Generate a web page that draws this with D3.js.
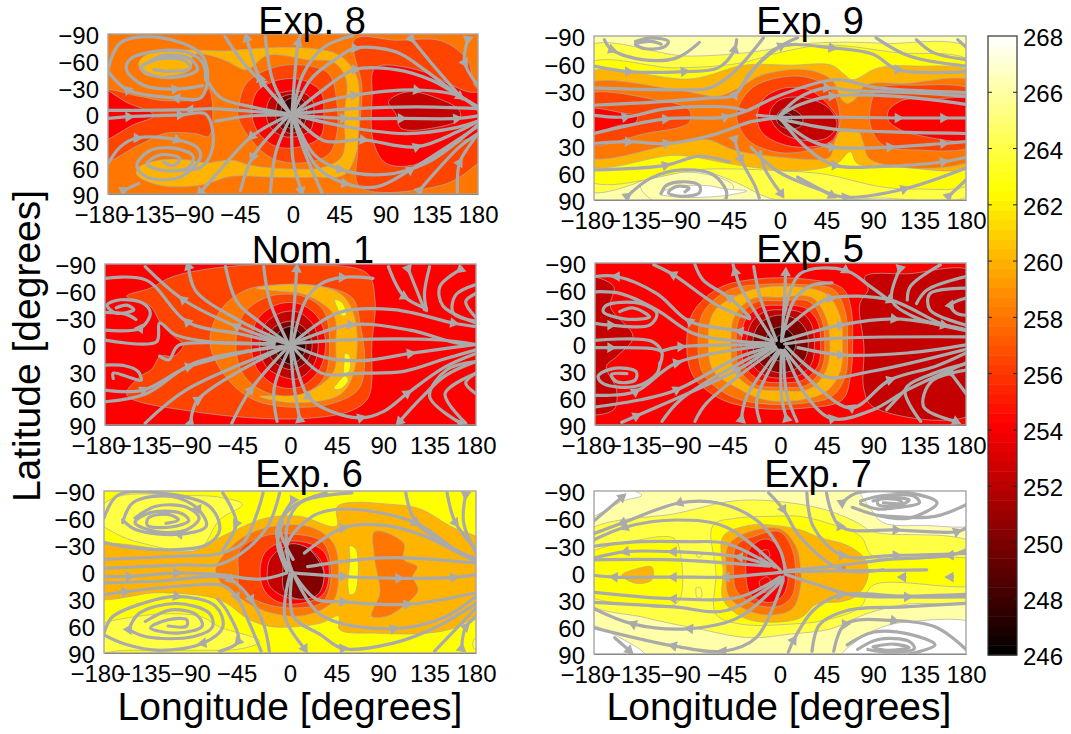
<!DOCTYPE html>
<html><head><meta charset="utf-8">
<script src="https://cdn.jsdelivr.net/npm/d3@7"></script>
<style>html,body{margin:0;padding:0;background:#fff}svg{display:block}text{font-family:"Liberation Sans",Arial,sans-serif;fill:#000}</style>
</head><body><svg id="c" width="1071" height="734"></svg>
<script>
const lonTicks=[-180,-135,-90,-45,0,45,90,135,180];
const latTicks=[-90,-60,-30,0,30,60,90];
const barTicks=[246,248,250,252,254,256,258,260,262,264,266,268];
const bandLevels=[246,248,250,252,254,256,258,260,262,264,266,268];
const bandColors=["#1c0000","#3c0000","#840000","#c40000","#ff0000","#ff4400","#ff7700","#ffb400","#ffff00","#ffff44","#ffffaa","#ffffff"];

// Exp. 8 : [temperature level, outline in lon/lat]
const exp8Base=258;
const exp8Bands=[
[260,[[-150,-58],[-135,-71],[-100,-72],[-65,-71],[-30,-74],[15,-74],[45,-66],[62,-42],[64,0],[63,37],[50,68],[20,71],[-20,71],[-60,70],[-90,80],[-130,80],[-152,68],[-150,60],[-130,52],[-100,52],[-85,55],[-60,52],[-40,58],[0,62],[30,60],[48,47],[50,0],[52,-38],[40,-58],[15,-61],[-25,-66],[-45,-50],[-65,-60],[-85,-67],[-97,-66],[-100,-50],[-120,-43],[-145,-45]]],
[256,[[-190,-25],[-150,-20],[-125,-15],[-90,-18],[-82,-28],[-78,0],[-82,25],[-95,22],[-125,22],[-150,35],[-190,55]]],
[254,[[-190,-29],[-160,-12],[-140,-3],[-135,2],[-155,12],[-190,30]]],
[256,[[60,-84],[100,-83],[145,-82],[170,-60],[178,-30],[190,-25],[190,40],[175,60],[145,80],[65,82],[63,40],[67,-30]]],
[254,[[80,-52],[120,-50],[150,-35],[170,-25],[190,-22],[190,20],[165,30],[140,45],[115,58],[90,55],[78,30],[77,-20]]],
[252,[[93,-14],[112,-25],[140,-18],[162,-4],[162,6],[135,16],[105,16],[100,0]]],
[256,[[-53,-8],[-45,-35],[-20,-52],[10,-55],[35,-45],[43,-10],[43,20],[35,45],[10,55],[-20,50],[-40,30],[-53,5]]],
[254,[[-40,0],[-35,-25],[-15,-38],[10,-38],[27,-25],[30,0],[27,25],[10,36],[-15,37],[-33,22]]],
[252,[[-26,0],[-22,-18],[-8,-25],[8,-25],[19,-15],[20,3],[17,18],[5,25],[-10,25],[-22,15]]],
[250,[[-17,0],[-13,-17],[0,-22],[11,-14],[13,2],[9,15],[-2,22],[-13,14]]],
[248,[[-12,0],[-8,-14],[1,-18],[7,-9],[8,2],[5,12],[-3,16],[-9,10]]]
];
// Exp. 8 : streamlines in lon/lat, a third element 1 marks an arrowhead
const exp8Streams=[
[[0,1],[49,5,1],[105,5,1],[159,5,1],[180,2]],
[[0,0],[30,-14],[59,-21,1],[120,-27,1],[162,-20,1],[180,-5]],
[[0,0],[30,-28],[60,-50,1],[100,-50],[135,-38],[162,-20],[180,-8]],
[[0,-1],[18,-40],[42,-62],[60,-74,1],[100,-70],[130,-48],[160,-22],[180,-8]],
[[0,-1],[10,-45],[30,-75],[58,-88]],
[[0,0],[59,-6],[120,-8],[180,-6]],
[[115,-85,1],[140,-50],[165,-17]],
[[170,-84,1],[167,-58,1],[180,-32]],
[[0,1],[30,30],[68,29,1],[120,37,1],[160,20],[180,8]],
[[0,1],[55,15],[110,22],[160,15],[180,8]],
[[-1,1],[23,59],[50,78,1],[81,82],[114,63,1],[180,14]],
[[0,1],[20,45],[45,62,1],[90,68],[130,55],[170,22],[180,12]],
[[123,86,1],[162,37],[180,22]],
[[160,88],[162,55,1],[175,30],[180,22]],
[[-3,-1],[-30,-35,1],[-50,-60],[-66,-87]],
[[-3,-1],[-32,-40,1],[-40,-65],[-45,-85,1]],
[[-3,-1],[-19,-35],[-27,-87]],
[[-1,-1],[5,-80,1],[7,-88]],
[[-3,0],[-40,-8],[-70,-18],[-82,-35]],
[[-3,0],[-40,-3],[-80,-6],[-100,-5,1],[-180,-4]],
[[-3,1],[-40,2],[-75,8]],
[[-180,5],[-160,3,1],[-110,1,1],[-85,0],[-78,20],[-80,45],[-90,60],[-110,63]],
[[-180,-50],[-168,-80],[-129,-86],[-90,-68],[-83,-42],[-90,-18],[-113,-18,1],[-161,-27,1],[-180,-48]],
[[-85,-38],[-88,-58],[-105,-70],[-130,-71],[-158,-62],[-162,-50],[-145,-32],[-115,-28,1],[-88,-32]],
[[-145,-55],[-125,-66],[-100,-62],[-93,-50],[-110,-42],[-135,-43],[-148,-52],[-130,-62],[-105,-60],[-100,-52],[-120,-48],[-135,-50]],
[[-180,56],[-168,37],[-152,27,1],[-113,29,1],[-94,37],[-90,48],[-110,71],[-142,71],[-152,58],[-139,41],[-113,39],[-97,48],[-103,61],[-129,63],[-142,56],[-129,46],[-110,50],[-116,58],[-126,54]],
[[-3,1],[-39,48,1],[-51,86]],
[[-3,1],[-40,25,1],[-74,67],[-90,88,1]],
[[-1,1],[-16,40],[-22,88]],
[[-1,1],[0,52],[8,86,1]],
[[-1,1],[13,48],[28,88]],
[[-165,86,1],[-150,78]]
];

// Exp. 9
const exp9Base=266;
const exp9Bands=[
[264,[[-190,-76],[-90,-68],[-30,-72],[30,-82],[100,-82],[190,-72],[190,80],[90,88],[30,92],[-10,88],[-40,72],[-70,60],[-120,60],[-140,72],[-190,78]]],
[266,[[-120,62],[-70,62],[-45,75],[-60,92],[-120,92],[-135,75]]],
[268,[[-117,83],[-101,76],[-72,74],[-52,78],[-32,80],[-52,85],[-95,87]]],
[262,[[-190,-57],[-100,-55],[-40,-60],[0,-72],[45,-80],[110,-72],[190,-58],[190,68],[130,78],[95,75],[45,62],[0,58],[-70,56],[-190,66]]],
[260,[[-190,-47],[-85,-43],[-35,-58],[10,-58],[50,-58],[62,-48],[70,-42],[95,-55],[130,-57],[190,-47],[190,50],[115,54],[75,50],[68,37],[55,50],[20,58],[-20,55],[-50,50],[-100,41],[-190,50]]],
[258,[[-190,-35],[-100,-31],[-60,-24],[-40,-33],[-18,-47],[25,-53],[50,-42],[60,-20],[65,-16],[72,-20],[83,-36],[120,-38],[190,-38],[190,43],[88,46],[80,25],[76,15],[58,15],[52,30],[48,43],[0,43],[-45,35],[-70,24],[-100,28],[-190,41]]],
[256,[[-190,-24],[-120,-20],[-88,-9],[-88,5],[-130,17],[-190,28]]],
[256,[[-42,-3],[-30,-30],[-10,-42],[25,-45],[50,-30],[58,0],[52,25],[30,35],[0,38],[-30,25]]],
[256,[[88,-15],[95,-32],[130,-36],[190,-28],[190,28],[130,35],[100,30],[88,10]]],
[254,[[-190,-9],[-150,-5],[-138,-2],[-140,5],[-155,8],[-190,17]]],
[254,[[-22,-3],[-15,-22],[5,-33],[30,-30],[50,-10],[57,5],[50,25],[25,32],[0,28],[-18,15]]],
[254,[[105,-8],[120,-20],[140,-20],[190,-18],[190,22],[130,18],[115,12],[105,3]]],
[252,[[-10,-5],[0,-20],[25,-22],[48,-10],[55,8],[45,22],[20,24],[0,15]]],
[250,[[-3,-3],[4,-10],[15,-8],[22,0],[20,9],[8,12],[-2,6]]],
[248,[[2,-2],[7,-5],[12,-2],[10,3],[4,4]]]
];
const exp9Streams=[
[[-170,-86],[-163,-75,1],[-133,-64],[-100,-66],[-78,-83]],
[[-140,-84],[-125,-88],[-108,-84],[-112,-78],[-130,-76],[-140,-81],[-125,-84],[-115,-81]],
[[-180,-57],[-147,-51,1],[-93,-51,1],[-60,-55],[-44,-75,1],[-42,-86]],
[[-180,-33],[-100,-31],[-68,-33],[-45,-50],[-16,-88]],
[[-180,-14],[-114,-18],[-68,-22],[-44,-25,1],[-29,-50],[1,-79,1],[17,-88]],
[[-180,-3],[-150,-1,1],[-111,-10],[-50,-12],[-33,-8]],
[[-22,-3],[0,-1],[50,-1],[114,0,1],[158,0,1],[180,0]],
[[-180,17],[-111,1,1],[-53,-1,1],[-32,-8],[-2,-24],[53,-42],[95,-33],[180,-28]],
[[-180,28],[-147,26,1],[-110,28,1],[-70,20],[-48,12],[-28,4],[0,0]],
[[-180,57],[-111,52,1],[-78,42],[-49,48]],
[[-148,86,1],[-125,66],[-95,57],[-65,62],[-52,80],[-52,88]],
[[-115,83],[-110,74],[-95,70],[-78,74],[-78,82],[-95,86],[-108,82],[-100,75],[-88,77],[-92,81]],
[[-44,23,1],[-38,45,1],[-24,75],[-20,88]],
[[-19,37],[-15,55],[1,83,1]],
[[0,0],[25,32],[53,52,1],[100,53],[158,48,1],[180,43]],
[[0,1],[30,25],[50,32,1],[106,32,1],[158,28,1],[180,26]],
[[0,1],[50,12],[100,15],[180,17]],
[[0,-3],[20,-15],[50,-24,1],[110,-24],[180,-15]],
[[-40,-30],[-3,-77],[50,-77,1],[90,-70],[114,-53,1],[180,-51]],
[[93,-88],[125,-68],[180,-57]],
[[132,-86],[148,-72],[180,-64]],
[[172,-86],[180,-78]],
[[-28,32],[-3,58],[37,78],[63,87,1],[120,78,1],[180,55]],
[[163,86,1],[180,68]],
[[17,65],[50,85,1]],
[[0,-3],[18,-22],[45,-33,1],[70,-30],[120,-28],[180,-24]]
];

// Nom. 1
const nom1Base=254;
const nom1Bands=[
[256,[[-136,-63],[-114,-76],[-62,-87],[3,-89],[74,-80],[82,-50],[79,-1],[76,58],[61,73],[9,83],[-94,75],[-159,56],[-146,36],[-135,28],[-126,13],[-113,13],[-104,0],[-113,-9],[-126,-24],[-136,-43],[-159,-54]]],
[258,[[-78,0],[-70,-35],[-45,-60],[-10,-67],[30,-65],[60,-52],[68,-20],[72,20],[66,50],[40,66],[0,70],[-35,62],[-60,40]]],
[260,[[-33,-63],[9,-67],[48,-57],[62,-31],[62,28],[48,56],[3,65],[-30,58],[-10,57],[19,52],[42,30],[44,0],[42,-33],[16,-55],[-13,-60]]],
[262,[[43,-50],[50,-47],[54,-33],[50,-32],[45,-42]]],
[262,[[53,10],[57,12],[57,30],[52,32],[52,20]]],
[262,[[45,44],[53,35],[56,40],[48,50],[42,49]]],
[256,[[-53,0],[-45,-35],[-20,-54],[12,-54],[32,-38],[38,0],[32,38],[12,55],[-20,55],[-45,35]]],
[254,[[-38,0],[-32,-28],[-12,-45],[10,-45],[28,-28],[34,0],[28,28],[10,47],[-12,47],[-32,28]]],
[252,[[-30,0],[-24,-24],[-8,-36],[8,-36],[22,-22],[27,0],[22,24],[8,38],[-8,36],[-24,24]]],
[250,[[-23,0],[-17,-18],[0,-26],[14,-18],[21,0],[15,20],[0,28],[-17,18]]],
[248,[[-16,0],[-11,-14],[0,-20],[10,-12],[15,0],[11,14],[0,22],[-11,14]]]
];
const nom1Streams=[
[[-4,-1],[-52,-20,1],[-104,-50,1],[-141,-87]],
[[-8,-4],[-50,-27],[-92,-60],[-99,-87,1]],
[[-2,-1],[-30,-25],[-52,-48],[-63,-87]],
[[-2,-1],[-20,-48],[-26,-87]],
[[0,-1],[4,-50],[6,-84,1]],
[[-15,-3],[-50,-12],[-100,-25,1],[-140,-72],[-180,-74]],
[[-180,-16],[-146,-18,1],[-136,-35],[-143,-46],[-165,-50],[-178,-44],[-169,-35],[-152,-39],[-159,-44],[-169,-41]],
[[-180,-36],[-160,-34],[-150,-28]],
[[-180,-5],[-130,-3],[-127,-24],[-112,-11],[-78,-3],[-16,-1]],
[[-127,13],[-118,17],[-112,5],[-107,0],[-16,0]],
[[-180,23],[-160,24],[-148,30],[-145,40],[-158,36],[-172,32],[-172,38]],
[[-180,51],[-143,51,1],[-99,25,1],[-16,2]],
[[-180,64],[-140,55],[-94,21],[-8,2]],
[[-141,88],[-100,50],[-4,2]],
[[-97,88,1],[-90,62,1],[-4,2]],
[[-57,88],[-39,51,1],[-2,2]],
[[-13,86],[-16,50],[0,2]],
[[9,84,1],[3,43],[0,2]],
[[1,2],[17,58,1],[40,75],[68,82,1],[90,75],[113,55,1],[150,25],[180,10]],
[[2,2],[30,32],[70,32],[110,30],[150,16],[180,6]],
[[2,1],[35,15],[70,18],[116,10,1],[160,3],[180,0]],
[[2,-1],[50,-5],[145,-5],[180,0]],
[[2,-1],[58,-22,1],[116,-16],[160,-2],[180,0]],
[[2,-1],[45,-35],[100,-39],[158,-24,1],[180,-20]],
[[2,-1],[15,-50],[30,-68],[50,-75,1],[80,-74]],
[[95,-87],[110,-54,1],[132,-40]],
[[114,-85,1],[130,-39]],
[[135,-87],[130,-57],[132,-38]],
[[165,-84,1],[145,-65],[148,-43],[180,-24]],
[[180,-67],[160,-55],[158,-35],[180,-26]],
[[180,-57],[170,-48],[180,-30]],
[[180,19],[150,35],[125,62],[106,86,1]],
[[165,88,1],[135,58],[152,28],[180,19]],
[[170,88],[150,55],[180,32]],
[[180,32],[170,43],[180,55]]
];

// Exp. 5
const exp5Base=254;
const exp5Bands=[
[252,[[-190,-73],[-162,-64],[-165,-41],[-143,-8],[-159,14],[-169,25],[-159,51],[-162,73],[-190,75]]],
[252,[[82,-75],[123,-78],[190,-78],[190,75],[90,70],[81,51],[81,3],[77,-45],[85,-60]]],
[256,[[-91,0],[-85,-35],[-60,-62],[-25,-72],[25,-72],[60,-62],[68,-42],[70,0],[68,35],[60,62],[25,71],[-25,71],[-60,60],[-85,35]]],
[258,[[-80,0],[-75,-35],[-50,-60],[-20,-66],[20,-66],[52,-60],[63,-35],[65,0],[63,35],[50,58],[20,66],[-20,66],[-50,57],[-75,33]]],
[260,[[-70,0],[-65,-35],[-40,-55],[-15,-63],[20,-63],[45,-55],[58,-30],[60,0],[58,30],[45,52],[20,62],[-15,62],[-40,50],[-65,30]]],
[258,[[-48,0],[-45,-30],[-28,-50],[0,-52],[30,-52],[44,-30],[48,0],[44,30],[28,50],[0,52],[-28,48],[-45,30]]],
[256,[[-43,0],[-40,-28],[-25,-46],[0,-48],[28,-47],[40,-27],[43,0],[40,27],[25,46],[0,48],[-25,45],[-40,28]]],
[254,[[-38,0],[-34,-27],[-20,-41],[0,-43],[24,-40],[36,-25],[39,0],[36,25],[22,40],[0,43],[-20,40],[-34,26]]],
[252,[[-33,0],[-28,-24],[-15,-36],[0,-38],[20,-35],[30,-22],[33,0],[30,22],[18,35],[0,38],[-15,35],[-28,22]]],
[250,[[-27,0],[-22,-20],[-10,-30],[2,-32],[16,-27],[25,-15],[27,0],[24,16],[14,28],[0,32],[-12,28],[-22,18]]],
[248,[[-15,0],[-11,-13],[0,-19],[10,-13],[15,0],[10,13],[0,19],[-11,13]]],
[246,[[-5,0],[-3,-8],[1,-10],[4,-6],[5,2],[3,8],[0,11],[-3,7]]]
];
const exp5Streams=[
[[-30,-28],[-60,-42],[-104,-77,1],[-123,-88]],
[[-30,-30],[-49,-51,1],[-75,-71],[-83,-88]],
[[-7,-4],[-39,-64],[-44,-80,1],[-46,-88]],
[[-4,-4],[-20,-53],[-26,-86]],
[[1,-3],[3,-34],[5,-79,1]],
[[-7,-3],[-39,-14,1],[-88,-25,1],[-120,-56],[-159,-75,1],[-180,-75]],
[[-7,-1],[-40,-3],[-85,-12],[-120,-38],[-155,-56],[-180,-58]],
[[-180,-23],[-165,-21,1],[-127,-21],[-120,-34],[-136,-45],[-169,-43],[-172,-36],[-152,-28],[-127,-30],[-143,-40],[-156,-36]],
[[-180,-4],[-125,-3],[-115,10],[-117,23]],
[[-116,8],[-97,3,1],[-7,1]],
[[-180,4],[-165,4,1],[-125,5],[-115,8]],
[[-117,21],[-120,33],[-140,47],[-172,44],[-177,36],[-162,27],[-140,31],[-141,40],[-159,42],[-164,34],[-149,33]],
[[-180,57],[-141,53,1],[-101,21,1],[-7,1]],
[[-180,70],[-136,62],[-101,51,1],[-39,14],[-7,3]],
[[-154,87],[-140,80,1],[-42,29,1],[-7,3]],
[[-115,86],[-97,62],[-39,21],[-5,3]],
[[-83,86],[-72,66],[-4,5]],
[[-38,84,1],[-33,59],[-2,7]],
[[-20,86],[-23,62],[0,7]],
[[6,83,1],[1,59],[1,7]],
[[16,86],[6,55],[3,7]],
[[4,8],[26,59],[50,83,1],[90,73],[123,51],[180,21]],
[[4,7],[35,47],[69,71,1],[106,40,1],[150,25],[180,10]],
[[6,3],[42,36],[90,30],[180,6]],
[[17,4],[58,12,1],[123,10],[180,1]],
[[4,0],[48,-6],[180,-8]],
[[3,-4],[58,-21,1],[110,-28,1],[158,-21,1],[180,-16]],
[[3,-15],[30,-40],[48,-51,1],[106,-49,1],[155,-23],[180,-15]],
[[4,-34],[19,-78],[63,-82,1],[87,-64],[106,-48]],
[[2,-8],[14,-50],[30,-65],[50,-68]],
[[116,-84,1],[108,-49],[130,-30],[180,-15]],
[[155,-88],[126,-64],[123,-49]],
[[180,-75],[142,-60],[132,-45]],
[[180,-62],[145,-56],[145,-38],[180,-21]],
[[180,-51],[165,-43,1],[171,-34],[180,-32]],
[[136,86],[121,51],[150,32],[180,22]],
[[103,73],[121,51]],
[[165,32,1],[180,55]],
[[180,29],[146,42],[139,70],[170,86,1]]
];

// Exp. 6
const exp6Base=262;
const exp6Bands=[
[264,[[-190,-62],[-169,-83],[-100,-85],[-68,-83],[-46,-75],[-68,-58],[-84,-29],[-94,-23],[-143,-32],[-169,-43]]],
[264,[[-190,64],[-146,49],[-88,49],[-68,61],[-29,77],[-46,85],[-94,87],[-159,87],[-190,88]]],
[264,[[178,75],[190,75],[190,85],[178,85]]],
[260,[[-190,-27],[-94,-23],[-72,-36],[-52,-47],[-23,-60],[9,-62],[45,-51],[46,-73],[100,-75],[126,-70],[155,-51],[190,-30],[190,36],[161,61],[132,68],[84,68],[48,64],[47,49],[29,57],[-16,61],[-39,53],[-68,31],[-126,23],[-190,27]]],
[262,[[58,-29],[64,-25],[63,23],[58,25],[56,16],[58,-14]]],
[258,[[82,-45],[110,-32],[110,-14],[123,-6],[119,5],[124,20],[113,35],[94,49],[79,49],[87,23],[82,-14]]],
[258,[[-72,-4],[-50,-35],[-20,-50],[20,-50],[42,-32],[47,0],[42,32],[15,48],[-20,45],[-50,28],[-68,10]]],
[256,[[-50,0],[-48,-25],[-25,-40],[5,-42],[32,-33],[40,0],[32,33],[5,40],[-25,35],[-48,20]]],
[254,[[-29,0],[-24,-22],[-8,-33],[15,-33],[33,-22],[38,0],[32,25],[10,35],[-12,33],[-25,20]]],
[252,[[-22,0],[-19,-15],[-5,-28],[15,-28],[30,-12],[33,5],[27,22],[8,30],[-8,26],[-20,15]]],
[250,[[-2,-30],[15,-28],[28,-12],[33,3],[27,25],[8,30],[-5,22],[-7,0]]]
];
const exp6Streams=[
[[-180,-14],[-100,-18],[-70,-20],[-45,-33],[-32,-65],[-26,-88]],
[[-180,-4],[-100,-8],[-70,-8],[-48,-20],[-22,-50],[-10,-88]],
[[-180,5],[-156,5,1],[-110,1,1],[-68,3],[-30,8],[-3,1]],
[[-180,12],[-125,10],[-70,5],[-58,8,1],[-38,30,1],[-25,60],[-20,88]],
[[-180,25],[-160,22,1],[-100,15],[-65,15],[-52,27,1],[-40,55],[-28,88]],
[[-180,-60],[-167,-85],[-127,-88],[-78,-73],[-68,-47],[-81,-30],[-110,-25],[-159,-28],[-180,-33]],
[[-65,-88],[-52,-54,1],[-65,-25]],
[[-162,-55],[-152,-77],[-114,-84],[-89,-70,1],[-81,-51],[-107,-42,1],[-149,-47],[-162,-58]],
[[-150,-60],[-130,-73],[-100,-72],[-88,-60],[-100,-47],[-130,-45],[-150,-55],[-135,-66],[-105,-65],[-98,-57],[-115,-50],[-138,-52],[-137,-60],[-118,-64],[-108,-58],[-120,-54]],
[[-180,68],[-172,50],[-143,35],[-110,27,1],[-72,38],[-65,61],[-84,79,1],[-126,87],[-160,80],[-180,70]],
[[-156,64,1],[-146,46],[-110,35],[-78,46],[-75,61],[-94,72],[-139,72],[-156,64]],
[[-140,55],[-115,42],[-90,48],[-85,60],[-110,68],[-135,62],[-118,53],[-100,53],[-100,60],[-118,60]],
[[-68,88],[-50,77,1],[-60,45],[-70,30]],
[[-7,-55],[-12,-30],[-3,-1]],
[[3,-80,1],[-13,-45],[-1,-3]],
[[-10,-32],[-3,-1]],
[[35,-88],[3,-73],[-10,-51],[3,-14]],
[[60,-88],[10,-77],[-3,-50],[0,-1]],
[[2,-1],[-3,-30],[22,-62],[52,-70],[121,-55,1],[165,-21],[180,-15]],
[[14,-21],[51,-49,1],[90,-52],[130,-40],[165,-20],[180,-12]],
[[17,-6],[60,-13],[100,-16],[180,-10]],
[[3,1],[51,5,1],[105,7,1],[158,6,1],[180,3]],
[[3,1],[25,30],[51,33,1],[113,36,1],[180,23]],
[[3,1],[30,48],[100,63,1],[150,50],[180,27]],
[[2,2],[3,49],[30,70],[51,85,1],[100,79],[140,62],[180,35]],
[[0,2],[-5,50],[14,85,1]],
[[112,-88],[122,-55,1],[165,-22],[180,-15]],
[[152,-88],[160,-55,1],[180,-25]],
[[170,-86,1],[168,-55],[180,-21]],
[[140,88],[180,40]],
[[166,85,1],[170,61,1],[180,50]]
];

// Exp. 7
const exp7Base=266;
const exp7Bands=[
[268,[[-190,-60],[-152,-79],[-134,-85],[-146,-92],[-190,-92]]],
[268,[[78,-92],[88,-70],[100,-55],[140,-52],[190,-55],[190,-92]]],
[268,[[190,58],[120,55],[95,62],[75,75],[60,92],[190,92]]],
[268,[[-190,58],[-150,75],[-130,92],[-190,92]]],
[264,[[-190,-42],[-97,-66],[-45,-79],[-7,-79],[42,-70],[75,-55],[90,-45],[190,-30],[190,28],[123,35],[85,45],[50,62],[10,68],[-30,72],[-80,62],[-130,50],[-190,30]]],
[262,[[-190,-16],[-136,-36],[-103,-38],[-97,-25],[-97,30],[-110,38],[-136,36],[-190,22]]],
[262,[[-65,-52],[-42,-60],[-7,-62],[19,-62],[45,-55],[78,-40],[90,-18],[190,-12],[190,12],[90,14],[78,38],[42,53],[10,57],[-38,57],[-62,46],[-62,0]]],
[260,[[-55,0],[-55,-40],[-30,-52],[-5,-52],[20,-47],[40,-38],[65,-30],[82,-15],[85,5],[75,25],[60,32],[35,35],[20,50],[-10,55],[-35,50],[-55,30]]],
[260,[[-153,3],[-139,-4],[-124,-6],[-124,8],[-139,12]]],
[258,[[-52,0],[-50,-30],[-30,-45],[0,-48],[15,-30],[20,-5],[20,15],[12,40],[-10,47],[-35,40],[-50,25]]],
[256,[[-45,0],[-42,-30],[-25,-40],[0,-45],[12,-25],[15,0],[12,25],[0,37],[-25,35],[-42,20]]],
[254,[[-33,0],[-30,-25],[-15,-37],[-2,-30],[5,-10],[8,5],[3,25],[-10,33],[-28,25]]],
[254,[[-20,-22],[-12,-25],[-10,-18],[-16,-15]]],
[254,[[-20,10],[-12,5],[-8,15],[-15,22]]],
[264,[[-81,-22],[-77,-22],[-76,-18],[-80,-17]]],
[264,[[-81,17],[-77,17],[-76,27],[-80,28]]],
[258,[[60,-8],[63,-8],[63,-2],[60,-2]]]
];
const exp7Streams=[
[[5,-2],[0,-25],[-23,-58],[-61,-77],[-97,-77,1],[-152,-55,1],[-180,-43]],
[[0,-3],[-52,-50],[-100,-58],[-150,-50,1],[-180,-36]],
[[-5,-6],[-52,-32],[-90,-34],[-135,-34],[-180,-29]],
[[-10,-8],[-39,-17,1],[-103,-23,1],[-149,-23,1],[-180,-16]],
[[-10,-7],[-103,-14],[-180,-14]],
[[6,-1],[-52,5,1],[-103,5,1],[-160,5,1],[-180,3]],
[[0,5],[-39,27],[-103,29,1],[-180,22]],
[[3,5],[-52,42],[-103,38],[-180,33]],
[[3,7],[-39,49],[-87,62,1],[-142,57,1],[-180,40]],
[[3,9],[-23,72],[-55,87,1],[-103,81,1],[-180,61]],
[[-160,72],[-146,86,1]],
[[-180,-57],[-153,-83,1]],
[[-11,-88],[3,-70,1],[19,-40],[60,-3],[100,-3]],
[[5,-1],[142,-3]],
[[26,-88],[32,-51],[60,-19,1],[112,-19,1],[180,-21]],
[[45,-88],[58,-51,1],[112,-47,1],[171,-45,1],[180,-49]],
[[60,-77,1],[75,-88],[125,-88],[152,-77],[125,-60],[95,-63],[70,-72]],
[[78,-79],[100,-85],[130,-84],[135,-77],[115,-72],[95,-70],[78,-76]],
[[90,-79],[105,-83],[125,-80],[115,-74],[95,-75],[95,-80],[115,-80],[118,-77],[100,-77]],
[[180,-75],[150,-62],[95,-63]],
[[180,-25],[165,-19,1],[100,-14],[60,-8],[5,-2]],
[[121,5],[119,5,1],[117,5]],
[[167,5],[165,5,1],[163,5]],
[[5,2],[40,15],[70,25],[123,27,1],[180,27]],
[[8,88],[13,75,1],[32,42],[58,25,1],[120,26],[180,24]],
[[31,87],[38,58],[65,42],[120,38],[180,34]],
[[52,87],[63,57,1],[110,53,1],[150,60],[180,85]],
[[65,80],[90,66],[125,68],[150,80],[125,90]],
[[75,85],[95,74],[125,76],[130,84],[105,88],[85,85]],
[[90,82],[110,79],[125,83],[105,86],[92,84]]
];

const panels=[
 {title:"Exp. 8",base:exp8Base,bands:exp8Bands,streams:exp8Streams,x0:108,x1:478,y0:34,y1:194,tx:312,ty:34},
 {title:"Exp. 9",base:exp9Base,bands:exp9Bands,streams:exp9Streams,x0:594,x1:966,y0:36,y1:200,tx:810,ty:34},
 {title:"Nom. 1",base:nom1Base,bands:nom1Bands,streams:nom1Streams,x0:105,x1:476,y0:264,y1:425,tx:313,ty:263},
 {title:"Exp. 5",base:exp5Base,bands:exp5Bands,streams:exp5Streams,x0:595,x1:966,y0:263,y1:425,tx:810,ty:262},
 {title:"Exp. 6",base:exp6Base,bands:exp6Bands,streams:exp6Streams,x0:104,x1:476,y0:491,y1:653,tx:309,ty:487},
 {title:"Exp. 7",base:exp7Base,bands:exp7Bands,streams:exp7Streams,x0:594,x1:966,y0:491,y1:654,tx:818,ty:487}
];

const svg=d3.select("#c");
const bandColor=d3.scaleOrdinal(bandLevels,bandColors);
const TICK=24,TITLE=38,LABEL=39,GRAY="#aaaaaa";

panels.forEach((p,i)=>{
  const x=d3.scaleLinear([-180,180],[p.x0,p.x1]);
  const y=d3.scaleLinear([-90,90],[p.y0,p.y1]);
  const id="clip"+i;
  svg.append("clipPath").attr("id",id).append("rect")
    .attr("x",p.x0).attr("y",p.y0).attr("width",p.x1-p.x0).attr("height",p.y1-p.y0);
  const g=svg.append("g").attr("clip-path",`url(#${id})`);
  g.append("rect").attr("x",p.x0).attr("y",p.y0).attr("width",p.x1-p.x0).attr("height",p.y1-p.y0).attr("fill",bandColor(p.base));
  const ring=d3.line().x(d=>x(d[0])).y(d=>y(d[1])).curve(d3.curveCatmullRomClosed.alpha(0.5));
  g.selectAll("path.band").data(p.bands).join("path").attr("class","band")
    .attr("d",d=>ring(d[1])).attr("fill",d=>bandColor(d[0]))
    .attr("stroke",GRAY).attr("stroke-width",0.7);
  const flow=d3.line().x(d=>x(d[0])).y(d=>y(d[1])).curve(d3.curveCatmullRom.alpha(0.5));
  g.selectAll("path.stream").data(p.streams).join("path").attr("class","stream")
    .attr("d",d=>flow(d)).attr("fill","none").attr("stroke",GRAY).attr("stroke-width",3.2)
    .attr("stroke-linecap","round").attr("stroke-linejoin","round");
  const tri=d3.symbol().type(d3.symbolTriangle).size(50)();
  p.streams.forEach(s=>s.forEach((pt,k)=>{
    if(!pt[2])return;
    const a=s[k+1]||pt, b=s[k+1]?pt:s[k-1];
    const ang=Math.atan2(y(a[1])-y(b[1]),x(a[0])-x(b[0]))*180/Math.PI+90;
    g.append("path").attr("d",tri).attr("fill",GRAY)
      .attr("transform",`translate(${x(pt[0])},${y(pt[1])}) rotate(${ang})`);
  }));
  svg.append("rect").attr("x",p.x0).attr("y",p.y0).attr("width",p.x1-p.x0).attr("height",p.y1-p.y0)
    .attr("fill","none").attr("stroke","#a6a6a6").attr("stroke-width",1.4);
  const ax=svg.append("g").attr("transform",`translate(0,${p.y1})`)
    .call(d3.axisBottom(x).tickValues(lonTicks).tickSize(0).tickPadding(12));
  ax.select(".domain").attr("stroke","#888").attr("stroke-width",1);
  ax.selectAll("text").attr("font-size",TICK).attr("dx",d=>d<0?-7:0);
  const ay=svg.append("g").attr("transform",`translate(${p.x0},0)`)
    .call(d3.axisLeft(y).tickValues(latTicks).tickSize(0).tickPadding(9));
  ay.select(".domain").remove();
  ay.selectAll("text").attr("font-size",TICK).attr("y",2);
  svg.append("text").attr("x",p.tx).attr("y",p.ty).attr("text-anchor","middle").attr("font-size",TITLE).text(p.title);
});

svg.append("text").attr("x",290).attr("y",720).attr("text-anchor","middle").attr("font-size",LABEL).text("Longitude [degrees]");
svg.append("text").attr("x",779).attr("y",720).attr("text-anchor","middle").attr("font-size",LABEL).text("Longitude [degrees]");
svg.append("text").attr("transform","translate(40,346) rotate(-90)").attr("text-anchor","middle").attr("font-size",LABEL).text("Latitude [degrees]");

// colour bar : MATLAB hot map in 64 steps
const CB={x0:988,x1:1017,y0:36,y1:655};
const cbY=d3.scaleLinear([246,268],[CB.y1,CB.y0]);
const hot=d3.scaleLinear([0,3/8,3/4,1],["#000000","#ff0000","#ffff00","#ffffff"]);
const steps=d3.range(64);
const cbar=svg.append("g");
cbar.selectAll("rect").data(steps).join("rect")
  .attr("x",CB.x0).attr("width",CB.x1-CB.x0)
  .attr("y",k=>cbY(246+22*(k+1)/64)).attr("height",k=>cbY(246+22*k/64)-cbY(246+22*(k+1)/64)+0.5)
  .attr("fill",k=>hot((k+0.5)/64));
cbar.selectAll("line.l").data(barTicks.slice(1,-1)).join("line").attr("class","l")
  .attr("x1",CB.x0).attr("x2",CB.x0+4).attr("y1",cbY).attr("y2",cbY).attr("stroke","#222").attr("stroke-width",1);
cbar.selectAll("line.r").data(barTicks.slice(1,-1)).join("line").attr("class","r")
  .attr("x1",CB.x1-4).attr("x2",CB.x1).attr("y1",cbY).attr("y2",cbY).attr("stroke","#222").attr("stroke-width",1);
svg.append("rect").attr("x",CB.x0).attr("y",CB.y0).attr("width",CB.x1-CB.x0).attr("height",CB.y1-CB.y0)
  .attr("fill","none").attr("stroke","#333").attr("stroke-width",1.2);
const cAxis=svg.append("g").attr("transform",`translate(${CB.x1},0)`)
  .call(d3.axisRight(cbY).tickValues(barTicks).tickSize(0).tickPadding(6));
cAxis.select(".domain").remove();
cAxis.selectAll("text").attr("font-size",TICK).attr("y",2);
</script></body></html>
